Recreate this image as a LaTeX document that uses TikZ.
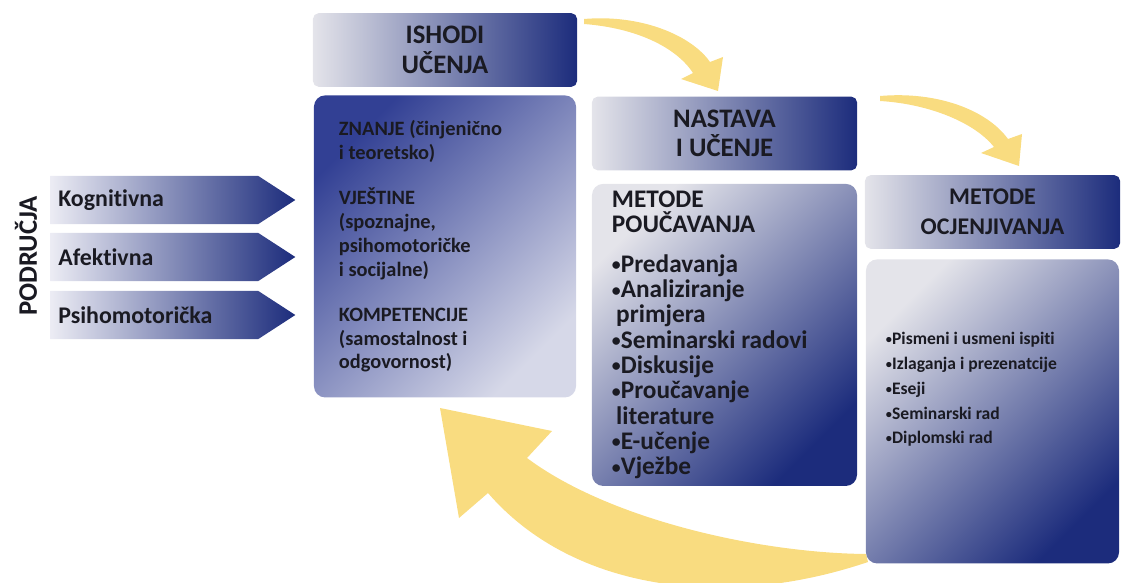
\documentclass[tikz,border=0pt]{standalone}
\usepackage{fontspec}
\setmainfont{Carlito}[Ligatures=NoCommon]
\usepackage{xcolor}
\usetikzlibrary{positioning,shapes.symbols}
\definecolor{ciklusnavy}{RGB}{28,44,124}
\definecolor{ciklusblue}{RGB}{50,64,148}
\definecolor{ciklusgray}{RGB}{228,228,234}
\definecolor{cikluslight}{RGB}{214,216,232}
\definecolor{ciklusfade}{RGB}{236,236,244}
\definecolor{ciklusyellow}{RGB}{249,220,128}
\definecolor{ciklustext}{RGB}{26,26,34}
\newcommand{\stavka}{\raisebox{0.12ex}{\scalebox{0.7}{\textbullet}}}

\begin{document}
\begin{tikzpicture}[x=0.025cm,y=-0.025cm,
  naslov/.style={rectangle, rounded corners=4pt, left color=ciklusgray, right color=ciklusnavy,
    minimum height=1.84cm, align=center, inner sep=0pt, text=ciklustext,
    font=\bfseries\fontsize{19}{21}\selectfont},
  kutija/.style={rectangle, rounded corners=8pt, minimum height=7.55cm, align=flush left, text=ciklustext},
  podrucje/.style={signal, signal to=east, signal pointer angle=66, left color=ciklusfade,
    right color=ciklusnavy, minimum height=1.2cm, text width=4.8cm, inner xsep=0.2cm,
    inner ysep=0pt, align=flush left, text=ciklustext, font=\bfseries\fontsize{17}{20}\selectfont}]
\useasboundingbox (0,0) rectangle (1122,583);

\fill[ciklusyellow] (584,19) .. controls (642,14) and (692,36) .. (710,62) -- (723,57) -- (718,91)
  -- (681,79) -- (693,73) .. controls (676,47) and (636,28) .. (584,24) -- cycle;
\fill[ciklusyellow] (880,96) .. controls (937,91) and (987,110) .. (1008,139) -- (1022,134) -- (1019,166)
  -- (981,153) -- (994,147) .. controls (975,123) and (930,104) .. (880,101) -- cycle;
\fill[ciklusyellow] (866,554) .. controls (760,553) and (610,520) .. (527,458) -- (552,431) -- (440,408)
  -- (459,518) -- (488,493) .. controls (570,588) and (720,612) .. (868,562) -- cycle;

\node[rotate=90, text=ciklustext, font=\bfseries\fontsize{19}{21}\selectfont] (podrucja) at (26,256) {PODRUČJA};
\node[podrucje, anchor=west] (kognitivna) at (50,200) {Kognitivna};
\node[podrucje, anchor=west] (afektivna) at (50,257) {Afektivna};
\node[podrucje, anchor=west] (psihomotoricka) at (50,315) {Psihomotorička};

\node[naslov, minimum width=6.6cm] (ishodi) at (445,50) {ISHODI\\UČENJA};
\node[kutija, below=0.2cm of ishodi, minimum width=6.55cm, text width=5.3cm, inner xsep=0.625cm,
  top color=ciklusblue, bottom color=cikluslight, shading angle=45,
  font=\bfseries\fontsize{14.5}{17}\selectfont] (znanje) {ZNANJE (činjenično\\i teoretsko)\\[15pt]
  VJEŠTINE\\(spoznajne,\\psihomotoričke\\i socijalne)\\[15pt]
  KOMPETENCIJE\\(samostalnost i\\odgovornost)};

\node[naslov, minimum width=6.625cm] (nastava) at (724.5,133.5) {NASTAVA\\I UČENJE};
\node[kutija, below=0.325cm of nastava, minimum width=6.625cm, text width=5.625cm, inner xsep=0.5cm,
  top color=ciklusgray, bottom color=ciklusnavy, shading angle=45,
  font=\bfseries\fontsize{18}{18}\selectfont] (poucavanje) {METODE\\POUČAVANJA\\[10pt]
  \stavka Predavanja\\\stavka Analiziranje\\\,primjera\\\stavka Seminarski radovi\\
  \stavka Diskusije\\\stavka Proučavanje\\\,literature\\\stavka E-učenje\\\stavka Vježbe};

\node[naslov, minimum width=6.375cm, font=\bfseries\fontsize{17}{21}\selectfont] (ocjenjivanje) at (992.5,212) {METODE\\OCJENJIVANJA};
\node[kutija, below=0.25cm of ocjenjivanje, minimum width=6.325cm, minimum height=7.6cm,
  top color=ciklusgray, bottom color=ciklusnavy, shading angle=45] (ocjene) {};
\node[anchor=west, align=flush left, text=ciklustext, inner sep=0pt, font=\bfseries\fontsize{12.5}{17.7}\selectfont]
  (ocjtekst) at ([xshift=0.5cm,yshift=0.55cm]ocjene.west) {\stavka Pismeni i usmeni ispiti\\
  \stavka Izlaganja i prezenatcije\\\stavka Eseji\\\stavka Seminarski rad\\\stavka Diplomski rad};
\end{tikzpicture}
\end{document}
